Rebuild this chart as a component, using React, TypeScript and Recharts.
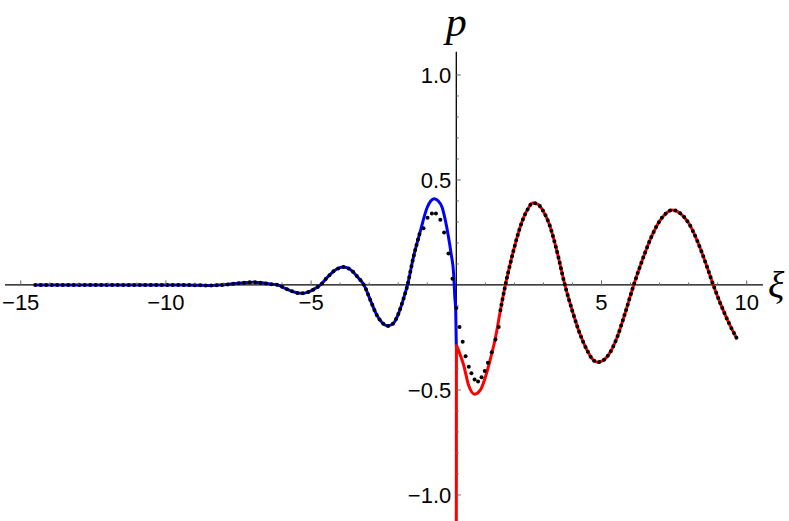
import { LineChart, Line, XAxis, YAxis, ReferenceLine, ReferenceDot } from "recharts";

// left branch (blue), xi < 0
const blueXi = [
  -14.5, -13.5, -12.5, -11.5, -10.5, -9.5, -9.0, -8.5, -8.0, -7.6, -7.3, -7.0, -6.7, -6.4, -6.15,
  -5.9, -5.6, -5.35, -5.1, -4.9, -4.68, -4.45, -4.2, -3.88, -3.6, -3.4, -3.18, -2.95, -2.75, -2.55,
  -2.35, -2.15, -2.0, -1.84, -1.68, -1.48, -1.25, -1.0, -0.88, -0.76, -0.62, -0.49, -0.38, -0.27,
  -0.18, -0.09, -0.05, -0.02, 0,
];
const blueP = [
  0, 0, 0, 0, 0, 0, -0.001, -0.003, 0.001, 0.007, 0.011, 0.013, 0.01, 0.004, 0,
  -0.016, -0.033, -0.04, -0.034, -0.02, 0, 0.035, 0.068, 0.085, 0.068, 0.038, 0, -0.075, -0.14, -0.18,
  -0.195, -0.18, -0.14, -0.075, 0, 0.13, 0.25, 0.37, 0.4, 0.41, 0.4, 0.37, 0.31, 0.23,
  0.15, 0.05, -0.06, -0.12, -0.29,
];

// right branch (red), xi > 0
const redXi = [
  0, 0.004, 0.1, 0.25, 0.43, 0.63, 0.83, 1.0, 1.18, 1.35, 1.52, 1.69, 1.9, 2.1, 2.3, 2.5, 2.62,
  2.8, 3.0, 3.2, 3.45, 3.74, 4.0, 4.25, 4.5, 4.7, 4.87, 5.05, 5.3, 5.55, 5.8, 6.11, 6.4, 6.7,
  7.0, 7.2, 7.43, 7.7, 8.0, 8.3, 8.6, 8.85, 9.1, 9.4, 9.66,
];
const redP = [
  -1.3, -0.29, -0.32, -0.38, -0.48, -0.52, -0.5, -0.44, -0.35, -0.25, -0.12, 0, 0.125, 0.23, 0.315, 0.37, 0.39,
  0.385, 0.35, 0.29, 0.17, 0, -0.125, -0.23, -0.31, -0.355, -0.368, -0.36, -0.32, -0.245, -0.14, 0, 0.116, 0.223,
  0.304, 0.338, 0.357, 0.343, 0.295, 0.21, 0.1, 0, -0.09, -0.185, -0.255,
];

// numerical points near the origin (black dots)
const nearXi = [
  -1.13, -0.99, -0.84, -0.7, -0.55, -0.42, -0.27, -0.13, 0, 0.11, 0.22, 0.32, 0.43, 0.52, 0.63,
  0.75, 0.87, 0.98, 1.09, 1.22, 1.35, 1.46,
];
const nearP = [
  0.27, 0.32, 0.34, 0.34, 0.31, 0.25, 0.15, 0.03, -0.11, -0.2, -0.27, -0.34, -0.39, -0.42, -0.45,
  -0.46, -0.44, -0.41, -0.37, -0.32, -0.26, -0.2,
];

const xMajorTicks = [-15, -10, -5, 5, 10];
const xMinorTicks = [-14, -13, -12, -11, -9, -8, -7, -6, -4, -3, -2, -1, 1, 2, 3, 4, 6, 7, 8, 9];
const yMajorTicks = [-1, -0.5, 0.5, 1];
const yMinorTicks = [-0.9, -0.8, -0.7, -0.6, -0.4, -0.3, -0.2, -0.1, 0.1, 0.2, 0.3, 0.4, 0.6, 0.7, 0.8, 0.9];
const xAxisEnds = [-15.54, 10.56];
const yAxisEnds = [-1.124, 1.11];

const toRows = (xs: number[], ps: number[]) => xs.map((x, i) => ({ x, p: ps[i] }));
const blueData = toRows(blueXi, blueP);
const redData = toRows(redXi, redP);
const nearData = toRows(nearXi, nearP);
const dotsLeft = blueData.filter((d) => d.x <= -1.25);
const dotsRight = redData.filter((d) => d.x >= 1.52);

const minus = (v: number, digits: number) =>
  (v < 0 ? "\u2212" : "") + Math.abs(v).toFixed(digits);

const tickFont = "'Liberation Sans', Arial, Helvetica, sans-serif";
const labelFont = "'Liberation Serif', 'Times New Roman', serif";
const tickGray = "#666";

export default function App() {
  return (
    <div style={{ position: "absolute", left: 0, top: 0, width: 789, height: 521, background: "#fff" }}>
      <LineChart width={789} height={521} margin={{ top: 0, right: 0, bottom: 0, left: 0 }}>
        <XAxis type="number" dataKey="x" domain={[-15.713, 11.457]} hide allowDataOverflow />
        <YAxis type="number" domain={[-1.124, 1.357]} hide allowDataOverflow />

        <ReferenceLine
          segment={[{ x: xAxisEnds[0], y: 0 }, { x: xAxisEnds[1], y: 0 }]}
          stroke="#000"
          strokeWidth={1.3}
          ifOverflow="visible"
        />
        <ReferenceLine
          segment={[{ x: 0, y: yAxisEnds[0] }, { x: 0, y: yAxisEnds[1] }]}
          stroke="#000"
          strokeWidth={1.3}
          ifOverflow="visible"
        />

        {xMinorTicks.map((t) => (
          <ReferenceDot
            key={"xn" + t}
            x={t}
            y={0}
            r={1}
            shape={(p: any) => (
              <line x1={p.cx} y1={p.cy} x2={p.cx} y2={p.cy - 2.5} stroke={tickGray} strokeWidth={1} />
            )}
          />
        ))}
        {xMajorTicks.map((t) => (
          <ReferenceDot
            key={"xm" + t}
            x={t}
            y={0}
            r={1}
            shape={(p: any) => (
              <g>
                <line x1={p.cx} y1={p.cy} x2={p.cx} y2={p.cy - 4.5} stroke={tickGray} strokeWidth={1} />
                <text x={p.cx} y={p.cy + 25} textAnchor="middle" fontFamily={tickFont} fontSize={22} fill="#000">
                  {minus(t, 0)}
                </text>
              </g>
            )}
          />
        ))}
        {yMinorTicks.map((t) => (
          <ReferenceDot
            key={"yn" + t}
            x={0}
            y={t}
            r={1}
            shape={(p: any) => (
              <line x1={p.cx} y1={p.cy} x2={p.cx + 2.5} y2={p.cy} stroke={tickGray} strokeWidth={1} />
            )}
          />
        ))}
        {yMajorTicks.map((t) => (
          <ReferenceDot
            key={"ym" + t}
            x={0}
            y={t}
            r={1}
            shape={(p: any) => (
              <g>
                <line x1={p.cx} y1={p.cy} x2={p.cx + 4.5} y2={p.cy} stroke={tickGray} strokeWidth={1} />
                <text x={p.cx - 5} y={p.cy + 8} textAnchor="end" fontFamily={tickFont} fontSize={22} fill="#000">
                  {minus(t, 1)}
                </text>
              </g>
            )}
          />
        ))}

        <ReferenceDot
          x={0}
          y={yAxisEnds[1]}
          r={1}
          shape={(p: any) => (
            <text x={p.cx} y={p.cy - 16} textAnchor="middle" fontFamily={labelFont} fontStyle="italic" fontSize={42} fill="#000">
              p
            </text>
          )}
        />
        <ReferenceDot
          x={xAxisEnds[1]}
          y={0}
          r={1}
          shape={(p: any) => (
            <text x={p.cx + 5} y={p.cy + 13} textAnchor="start" fontFamily={labelFont} fontStyle="italic" fontSize={38} fill="#000">
              ξ
            </text>
          )}
        />

        <Line data={blueData} dataKey="p" type="monotone" stroke="#0000ff" strokeWidth={3} dot={false} activeDot={false} isAnimationActive={false} />
        <Line data={redData} dataKey="p" type="monotone" stroke="#ff0000" strokeWidth={3} dot={false} activeDot={false} isAnimationActive={false} />
        <Line
          data={dotsLeft}
          dataKey="p"
          type="monotone"
          stroke="#000"
          strokeWidth={4}
          strokeDasharray="0 5.5"
          strokeLinecap="round"
          dot={false}
          activeDot={false}
          isAnimationActive={false}
        />
        <Line
          data={dotsRight}
          dataKey="p"
          type="monotone"
          stroke="#000"
          strokeWidth={4}
          strokeDasharray="0 5.5"
          strokeLinecap="round"
          dot={false}
          activeDot={false}
          isAnimationActive={false}
        />
        <Line
          data={nearData}
          dataKey="p"
          type="monotone"
          stroke="none"
          dot={{ r: 2, fill: "#000", stroke: "none" }}
          activeDot={false}
          isAnimationActive={false}
        />
      </LineChart>
    </div>
  );
}
